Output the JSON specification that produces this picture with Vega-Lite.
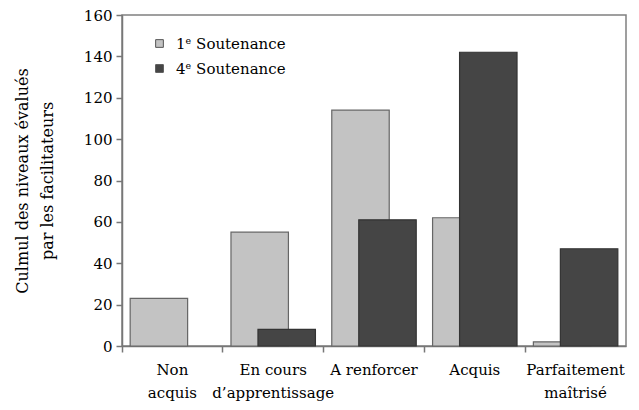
{
  "$schema": "https://vega.github.io/schema/vega-lite/v6.json",
  "width": 504,
  "height": 331,
  "autosize": "none",
  "padding": {"left": 122, "top": 15, "right": 13, "bottom": 64},
  "background": "white",
  "config": {
    "font": "DejaVu Serif",
    "view": {"stroke": "#808080", "strokeWidth": 1.5},
    "axis": {"labelFont": "DejaVu Serif", "titleFont": "DejaVu Serif", "labelFontWeight": "normal", "labelColor": "black", "titleColor": "black", "domainColor": "#777", "tickColor": "#777", "domainWidth": 1.5, "tickWidth": 1.5},
    "legend": {"labelFont": "DejaVu Serif"}
  },
  "data": {"values": [
    {"cat": "Non acquis", "series": "1ᵉ Soutenance", "value": 23},
    {"cat": "En cours d'apprentissage", "series": "1ᵉ Soutenance", "value": 55},
    {"cat": "A renforcer", "series": "1ᵉ Soutenance", "value": 114},
    {"cat": "Acquis", "series": "1ᵉ Soutenance", "value": 62},
    {"cat": "Parfaitement maîtrisé", "series": "1ᵉ Soutenance", "value": 2},
    {"cat": "Non acquis", "series": "4ᵉ Soutenance", "value": 0},
    {"cat": "En cours d'apprentissage", "series": "4ᵉ Soutenance", "value": 8},
    {"cat": "A renforcer", "series": "4ᵉ Soutenance", "value": 61},
    {"cat": "Acquis", "series": "4ᵉ Soutenance", "value": 142},
    {"cat": "Parfaitement maîtrisé", "series": "4ᵉ Soutenance", "value": 47}
  ]},
  "encoding": {
    "y": {"field": "value", "type": "quantitative",
      "scale": {"domain": [0, 160]},
      "axis": {"values": [0, 20, 40, 60, 80, 100, 120, 140, 160], "grid": false, "labelFontSize": 15, "tickSize": 6, "labelPadding": 4,
        "title": ["Culmul des niveaux évalués", "par les facilitateurs"], "titleFontSize": 16, "titleFontWeight": "normal", "titlePadding": 28, "titleLineHeight": 25}},
    "color": {"field": "series", "type": "nominal",
      "scale": {"domain": ["1ᵉ Soutenance", "4ᵉ Soutenance"], "range": ["#c3c3c3", "#454545"]},
      "legend": {"title": null, "orient": "none", "legendX": 30, "legendY": 21, "symbolType": "square", "symbolSize": 60, "symbolStrokeColor": "#555", "symbolStrokeWidth": 1, "labelFontSize": 15, "rowPadding": 9, "labelOffset": 9}}
  },
  "layer": [
    {
      "transform": [{"filter": "datum.series == '1ᵉ Soutenance' && datum.value > 0"}],
      "mark": {"type": "bar", "width": {"band": 0.57}, "xOffset": -13.5, "stroke": "#666", "strokeWidth": 1.2},
      "encoding": {
        "x": {"field": "cat", "type": "nominal", "sort": ["Non acquis", "En cours d'apprentissage", "A renforcer", "Acquis", "Parfaitement maîtrisé"],
          "scale": {"domain": ["Non acquis", "En cours d'apprentissage", "A renforcer", "Acquis", "Parfaitement maîtrisé"], "paddingInner": 0, "paddingOuter": 0},
          "axis": {"title": null, "orient": "bottom", "labelAngle": 0, "labelFontSize": 15, "ticks": false, "labelPadding": 16, "domain": false,
            "labelLineHeight": 23,
            "labelExpr": "datum.label == 'Non acquis' ? ['Non', 'acquis'] : datum.label == \"En cours d'apprentissage\" ? ['En cours', 'd’apprentissage'] : datum.label == 'Parfaitement maîtrisé' ? ['Parfaitement', 'maîtrisé'] : datum.label"}}
      }
    },
    {
      "transform": [{"filter": "datum.series == '4ᵉ Soutenance' && datum.value > 0"}],
      "mark": {"type": "bar", "width": {"band": 0.57}, "xOffset": 13.5, "stroke": "#333", "strokeWidth": 1.2},
      "encoding": {
        "x": {"field": "cat", "type": "nominal", "sort": ["Non acquis", "En cours d'apprentissage", "A renforcer", "Acquis", "Parfaitement maîtrisé"], "axis": null}
      }
    },
    {
      "mark": {"type": "rule", "opacity": 0},
      "encoding": {
        "x": {"field": "cat", "type": "nominal", "sort": ["Non acquis", "En cours d'apprentissage", "A renforcer", "Acquis", "Parfaitement maîtrisé"],
          "axis": {"title": null, "orient": "bottom", "labels": false, "ticks": true, "tickSize": 6, "bandPosition": 0, "domain": true, "grid": false}},
        "y": {"datum": 0},
        "color": null
      }
    }
  ],
  "resolve": {"axis": {"x": "independent"}}
}
